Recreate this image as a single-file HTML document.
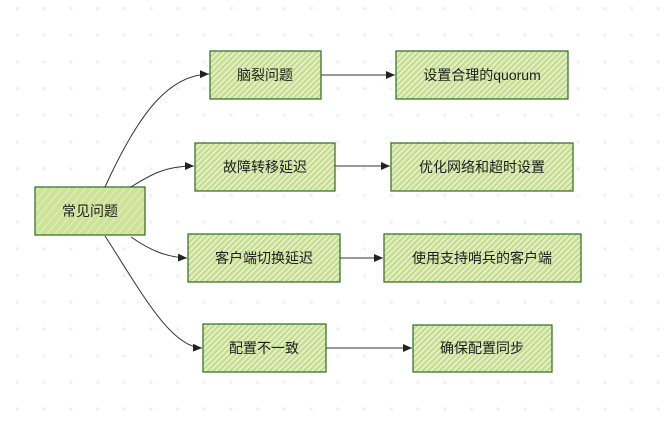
<!DOCTYPE html>
<html><head><meta charset="utf-8"><style>
body{margin:0;background:#fff;}
svg{display:block}
text{font-family:"Liberation Sans","Noto Sans CJK SC",sans-serif;font-size:14px;fill:#1e1e1e;text-anchor:middle;dominant-baseline:central}
</style></head><body>
<svg width="666" height="421" xmlns="http://www.w3.org/2000/svg">
<defs>
<pattern id="dots" width="26.7" height="26.7" patternUnits="userSpaceOnUse" x="4" y="-5">
<rect x="12" y="12" width="3" height="3" fill="#efefef"/></pattern>
<pattern id="h" width="4" height="4" patternUnits="userSpaceOnUse" patternTransform="rotate(-45)">
<rect width="4" height="4" fill="#e6f1cd"/><rect width="4" height="2.2" fill="#c3dc8b"/></pattern>
<pattern id="h2" width="6" height="6" patternUnits="userSpaceOnUse" patternTransform="rotate(-50)">
<rect width="6" height="6" fill="#cde398"/><rect width="6" height="1" fill="#e3efc4"/></pattern>
<marker id="a" markerWidth="10" markerHeight="8" refX="9" refY="4" orient="auto" markerUnits="userSpaceOnUse">
<path d="M0,0 L9,4 L0,8 Z" fill="#222"/></marker>
</defs>
<rect width="666" height="421" fill="url(#dots)"/>
<g stroke="#2d6a1e" stroke-width="1.2">
<rect x="35" y="187" width="110" height="48" fill="url(#h2)"/>
<rect x="210" y="51" width="111" height="48" fill="url(#h)"/>
<rect x="195" y="143" width="140" height="48" fill="url(#h)"/>
<rect x="188" y="234" width="152" height="48" fill="url(#h)"/>
<rect x="203" y="324" width="123" height="48" fill="url(#h)"/>
<rect x="396" y="51" width="172" height="48" fill="url(#h)"/>
<rect x="391" y="143" width="182" height="48" fill="url(#h)"/>
<rect x="384" y="234" width="197" height="48" fill="url(#h)"/>
<rect x="413" y="325" width="139" height="47" fill="url(#h)"/>
</g>
<g stroke="#333" stroke-width="1" fill="none" marker-end="url(#a)">
<path d="M105,187 C140,110 170,75 209,74"/>
<path d="M131,187 C150,175 165,166 194,166"/>
<path d="M131,237 C150,250 165,257 187,258"/>
<path d="M105,236 C140,290 170,347 202,348"/>
<path d="M321,75 L395,75"/>
<path d="M335,166 L390,166"/>
<path d="M340,258 L383,258"/>
<path d="M326,348 L412,348"/>
</g>
<text x="90" y="211">常见问题</text>
<text x="265" y="75">脑裂问题</text>
<text x="265" y="167">故障转移延迟</text>
<text x="264" y="258">客户端切换延迟</text>
<text x="264" y="348">配置不一致</text>
<text x="482" y="75">设置合理的quorum</text>
<text x="482" y="167">优化网络和超时设置</text>
<text x="482" y="258">使用支持哨兵的客户端</text>
<text x="482" y="348">确保配置同步</text>
</svg>
</body></html>
